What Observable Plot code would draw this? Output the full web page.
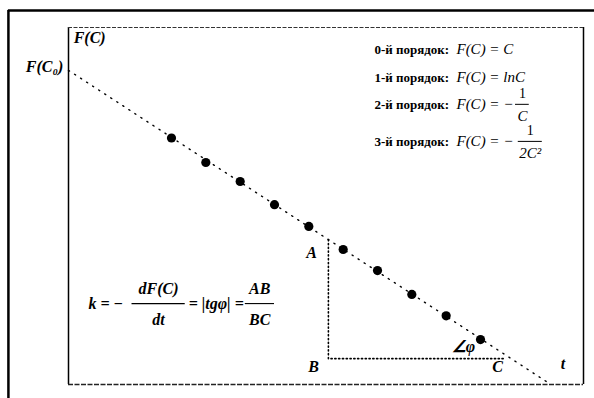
<!DOCTYPE html>
<html><head><meta charset="utf-8">
<script src="https://cdn.jsdelivr.net/npm/d3@7"></script>
<script src="https://cdn.jsdelivr.net/npm/@observablehq/plot@0.6"></script>
<style>
body{margin:0;background:#fff}
svg{display:block;background:#fff}
</style>
</head><body><div id="chart"></div>
<script>
// measured points: time t and F(C)
const times = [3, 4, 5, 6, 7, 8, 9, 10, 11, 12];
const values = [7.25, 6.53, 5.97, 5.29, 4.65, 3.97, 3.35, 2.65, 2.02, 1.32];
// fitted straight line: F(C0) at t = 0, reaches the t axis
const fitT = [0, 14.05];
const fitF = [9.24, 0];
// slope triangle A-B-C
const triT = [7.57, 7.57, 12.7];
const triF = [4.26, 0.76, 0.76];
// legend texts
const orderLabels = ["0-й порядок:", "1-й порядок:", "2-й порядок:", "3-й порядок:"];
const orderFormulas = ["F(C) = C", "F(C) = lnC", "F(C) = −", "F(C) = −"];
const orderRows = [9.85, 9.03, 8.24, 7.15];

const points = times.map((t, i) => ({t, F: values[i]}));
const fit = fitT.map((t, i) => ({t, F: fitF[i]}));
const tri = triT.map((t, i) => ({t, F: triF[i]}));
const legend = orderLabels.map((s, i) => ({label: s, formula: orderFormulas[i], F: orderRows[i]}));

const serif = "Liberation Serif";
const mathStyle = {fontFamily: serif, fontStyle: "italic", fontWeight: "bold", fill: "black"};

const legendFracs = [
  {num: "1", den: "C", t: 13.22, F: 8.24, t1: 13.02, t2: 13.42},
  {num: "1", den: "2C²", t: 13.45, F: 7.15, t1: 13.1, t2: 13.8}
];
const formulaFracs = [
  {num: "dF(C)", den: "dt", t: 2.62, F: 2.38, t1: 1.85, t2: 3.4},
  {num: "AB", den: "BC", t: 5.57, F: 2.38, t1: 5.15, t2: 6.0}
];

const chart = Plot.plot({
  width: 594,
  height: 398,
  marginLeft: 68,
  marginRight: 11,
  marginTop: 27,
  marginBottom: 14,
  x: {domain: [0, 15], axis: null},
  y: {domain: [0, 10.5], axis: null},
  style: {background: "white", fontFamily: serif},
  marks: [
    // outer frame (left and top)
    Plot.ruleX([-1.75], {y1: -0.45, y2: 11.0, stroke: "black", strokeWidth: 2.5}),
    Plot.ruleY([11.0], {x1: -1.75, x2: 15.4, stroke: "black", strokeWidth: 2.5}),
    // inner box
    Plot.ruleX([0], {y1: 0, y2: 10.5, stroke: "black", strokeWidth: 1.5}),
    Plot.ruleX([15], {y1: 0, y2: 10.5, stroke: "black", strokeWidth: 1.5}),
    Plot.ruleY([10.5], {x1: 0, x2: 15, stroke: "#333", strokeWidth: 1.2, strokeDasharray: "4,1.5"}),
    Plot.ruleY([0], {x1: 0, x2: 15, stroke: "#222", strokeWidth: 1.4, strokeDasharray: "5,1.5"}),
    // fitted line
    Plot.line(fit, {x: "t", y: "F", stroke: "black", strokeWidth: 1.4, strokeDasharray: "1.2,6", strokeLinecap: "round"}),
    // triangle
    Plot.line(tri, {x: "t", y: "F", stroke: "black", strokeWidth: 1.6, strokeDasharray: "1.2,2.6", strokeLinecap: "round"}),
    // points
    Plot.dot(points, {x: "t", y: "F", r: 4.6, fill: "black"}),
    // axis labels
    Plot.text(["F(C)"], {x: 0.15, y: 10.2, text: d => d, textAnchor: "start", fontSize: 16, ...mathStyle}),
    Plot.text(["F(C₀)"], {x: -0.15, y: 9.35, text: d => d, textAnchor: "end", fontSize: 16, ...mathStyle}),
    Plot.text(["t"], {x: 14.4, y: 0.6, text: d => d, fontSize: 16, ...mathStyle}),
    Plot.text(["A"], {x: 7.08, y: 3.88, text: d => d, fontSize: 16, ...mathStyle}),
    Plot.text(["B"], {x: 7.14, y: 0.53, text: d => d, fontSize: 16, ...mathStyle}),
    Plot.text(["C"], {x: 12.5, y: 0.53, text: d => d, fontSize: 16, ...mathStyle}),
    Plot.text(["∠φ"], {x: 11.5, y: 1.12, text: d => d, fontSize: 16, ...mathStyle}),
    // legend
    Plot.text(legend, {x: 8.91, y: "F", text: "label", textAnchor: "start", fontSize: 13, fontFamily: serif, fontWeight: "bold", fill: "black"}),
    Plot.text(legend, {x: 11.3, y: "F", text: "formula", textAnchor: "start", fontSize: 15, fontFamily: serif, fontStyle: "italic", fill: "black"}),
    Plot.ruleY(legendFracs, {y: "F", x1: "t1", x2: "t2", stroke: "black", strokeWidth: 1}),
    Plot.text(legendFracs, {x: "t", y: d => d.F + 0.33, text: "num", fontSize: 14, fontFamily: serif, fill: "black"}),
    Plot.text(legendFracs, {x: "t", y: d => d.F - 0.36, text: "den", fontSize: 15, fontFamily: serif, fontStyle: "italic", fill: "black"}),
    // bottom formula
    Plot.text(["k = −"], {x: 0.58, y: 2.38, text: d => d, textAnchor: "start", fontSize: 16, ...mathStyle}),
    Plot.text(["= |tgφ| ="], {x: 3.5, y: 2.38, text: d => d, textAnchor: "start", fontSize: 16, ...mathStyle}),
    Plot.ruleY(formulaFracs, {y: "F", x1: "t1", x2: "t2", stroke: "black", strokeWidth: 1.1}),
    Plot.text(formulaFracs, {x: "t", y: d => d.F + 0.44, text: "num", fontSize: 16, ...mathStyle}),
    Plot.text(formulaFracs, {x: "t", y: d => d.F - 0.47, text: "den", fontSize: 16, ...mathStyle})
  ]
});
document.getElementById("chart").append(chart);
</script>
</body></html>
